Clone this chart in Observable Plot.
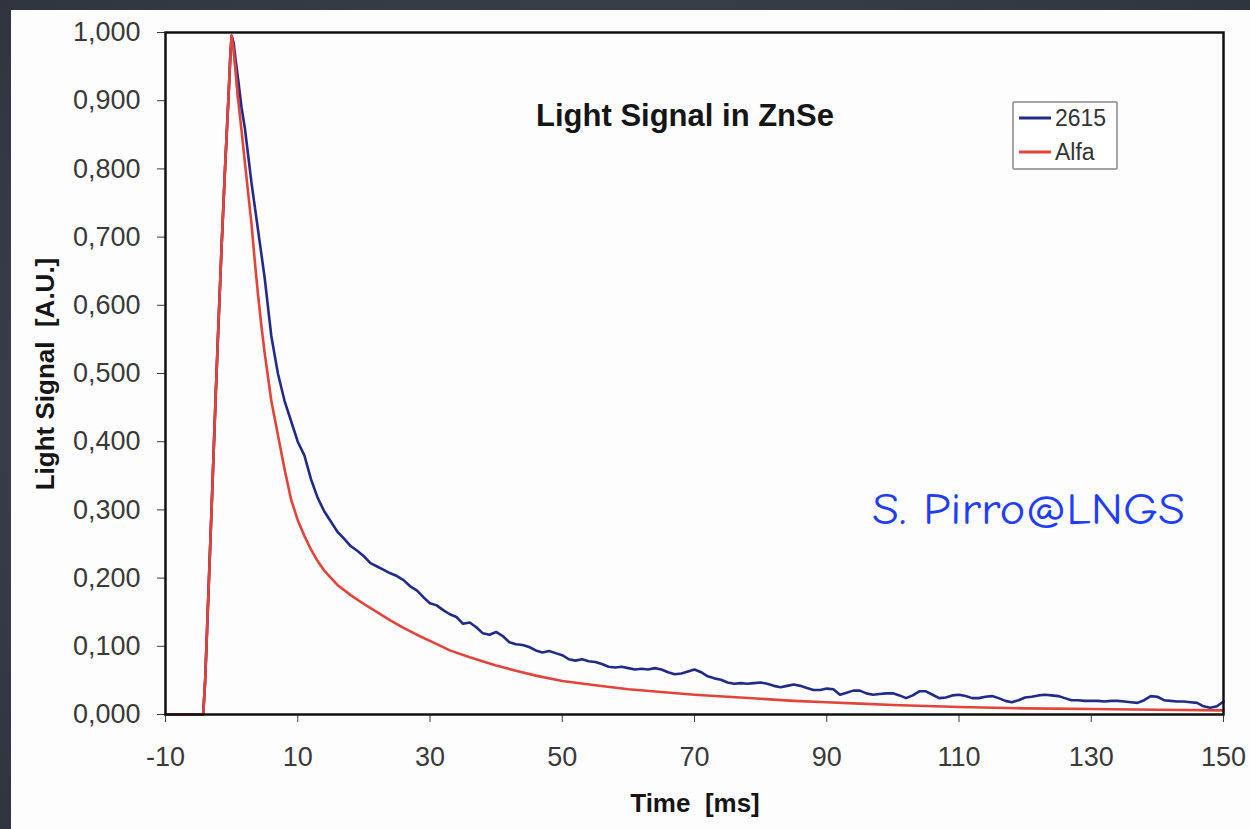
<!DOCTYPE html>
<html>
<head>
<meta charset="utf-8">
<script src="https://cdn.jsdelivr.net/npm/d3@7"></script>
<script src="https://cdn.jsdelivr.net/npm/@observablehq/plot@0.6"></script>
<style>
  html, body { margin: 0; padding: 0; }
  body {
    width: 1250px; height: 829px; overflow: hidden; position: relative;
    background: radial-gradient(ellipse at 50% 50%, #464b56 0%, #3a3e48 60%, #30343d 100%);
  }
  #panel { position: absolute; left: 11px; top: 10px; width: 1239px; height: 819px; background: #fdfdfd; }
  #overlay { position: absolute; left: 0; top: 0; pointer-events: none; }
</style>
</head>
<body>
<div id="panel"></div>
<svg id="overlay" width="1250" height="829"></svg>
<script>
// ---- data ----
const xTicks = [-10, 10, 30, 50, 70, 90, 110, 130, 150];
const yTicks = [0, 0.1, 0.2, 0.3, 0.4, 0.5, 0.6, 0.7, 0.8, 0.9, 1.0];

const alfaT = [-10, -4.3, -4, -3.5, -3, -2.4, -2, -1.5, -1, -0.5, -0.2, 0, 0.3, 0.6, 1, 1.5, 2, 2.5, 3, 3.5, 4, 4.5, 5, 6, 7, 8, 9, 10, 11, 12, 13, 14, 16, 18, 20, 22, 24, 26, 28, 30, 33, 36, 40, 43, 46, 50, 55, 60, 65, 70, 75, 80, 85, 90, 95, 100, 110, 120, 130, 140, 150];
const alfaV = [0, 0, 0.05, 0.18, 0.31, 0.47, 0.57, 0.69, 0.80, 0.90, 0.965, 0.995, 0.975, 0.945, 0.90, 0.856, 0.81, 0.765, 0.72, 0.665, 0.615, 0.57, 0.53, 0.46, 0.41, 0.36, 0.315, 0.285, 0.262, 0.242, 0.225, 0.211, 0.19, 0.175, 0.162, 0.15, 0.138, 0.127, 0.117, 0.108, 0.094, 0.084, 0.072, 0.064, 0.057, 0.049, 0.043, 0.037, 0.033, 0.029, 0.026, 0.023, 0.020, 0.018, 0.016, 0.014, 0.011, 0.009, 0.008, 0.007, 0.006];

const g2615T = [-10, -4.3, -4, -3.5, -3, -2.4, -2, -1.5, -1, -0.5, -0.2, 0, 0.3, 0.6, 1, 1.5, 2, 3, 4, 5, 6, 7, 8, 9, 10, 11, 12, 13, 14, 15, 16, 17, 18, 19,
  20, 21, 22, 23, 24, 25, 26, 27, 28, 29, 30, 31, 32, 33, 34, 35, 36, 37, 38, 39,
  40, 41, 42, 43, 44, 45, 46, 47, 48, 49, 50, 51, 52, 53, 54, 55, 56, 57, 58, 59,
  60, 61, 62, 63, 64, 65, 66, 67, 68, 69, 70, 71, 72, 73, 74, 75, 76, 77, 78, 79,
  80, 81, 82, 83, 84, 85, 86, 87, 88, 89, 90, 91, 92, 93, 94, 95, 96, 97, 98, 99,
  100, 101, 102, 103, 104, 105, 106, 107, 108, 109, 110, 111, 112, 113, 114, 115, 116, 117, 118, 119,
  120, 121, 122, 123, 124, 125, 126, 127, 128, 129, 130, 131, 132, 133, 134, 135, 136, 137, 138, 139,
  140, 141, 142, 143, 144, 145, 146, 147, 148, 149, 150];
const g2615V = [0, 0, 0.05, 0.18, 0.31, 0.47, 0.57, 0.69, 0.80, 0.90, 0.965, 0.995, 0.985, 0.96, 0.93, 0.89, 0.86, 0.78, 0.71, 0.64, 0.555, 0.50, 0.46, 0.43, 0.40, 0.38, 0.345, 0.318, 0.298, 0.283, 0.268, 0.258, 0.247, 0.240,
  0.232, 0.222, 0.217, 0.212, 0.207, 0.203, 0.197, 0.188, 0.182, 0.172, 0.163, 0.160, 0.153, 0.147, 0.143, 0.133, 0.135, 0.128, 0.119, 0.117,
  0.121, 0.115, 0.106, 0.103, 0.102, 0.099, 0.094, 0.091, 0.093, 0.090, 0.087, 0.081, 0.079, 0.081, 0.078, 0.077, 0.074, 0.070, 0.069, 0.070,
  0.068, 0.066, 0.067, 0.066, 0.068, 0.066, 0.062, 0.059, 0.060, 0.063, 0.066, 0.062, 0.056, 0.053, 0.051, 0.047, 0.045, 0.046, 0.045, 0.046,
  0.047, 0.045, 0.042, 0.040, 0.042, 0.044, 0.042, 0.039, 0.036, 0.036, 0.038, 0.037, 0.029, 0.032, 0.035, 0.035, 0.031, 0.029, 0.030, 0.031,
  0.031, 0.028, 0.024, 0.028, 0.034, 0.034, 0.029, 0.024, 0.025, 0.028, 0.029, 0.027, 0.024, 0.024, 0.026, 0.027, 0.024, 0.020, 0.018, 0.021,
  0.025, 0.026, 0.028, 0.029, 0.028, 0.027, 0.024, 0.021, 0.021, 0.020, 0.020, 0.020, 0.019, 0.020, 0.020, 0.019, 0.018, 0.017, 0.021, 0.027,
  0.026, 0.021, 0.020, 0.019, 0.019, 0.018, 0.017, 0.012, 0.010, 0.012, 0.019];

const seriesNames = ["2615", "Alfa"];
const seriesColors = ["#222c86", "#e2433b"];

const rows2615 = g2615T.map((t, i) => ({t, v: g2615V[i]}));
const rowsAlfa = alfaT.map((t, i) => ({t, v: alfaV[i]}));

const fmtY = d => d3.format(".3f")(d).replace(".", ",");
const FONT = "'Liberation Sans', Arial, Helvetica, sans-serif";

const chart = Plot.plot({
  width: 1239,
  height: 819,
  marginLeft: 154,
  marginTop: 22,
  marginRight: 27,
  marginBottom: 115,
  style: { background: "transparent", fontFamily: FONT, fontSize: "27px", color: "#3a3a3a", overflow: "visible" },
  x: { domain: [-10, 150], ticks: xTicks, tickSize: 8, tickPadding: 24, label: null, tickFormat: d => String(d) },
  y: { domain: [0, 1], ticks: yTicks, tickSize: 8, tickPadding: 17, label: null, tickFormat: fmtY },
  marks: [
    Plot.line(rowsAlfa, { x: "t", y: "v", stroke: seriesColors[1], strokeWidth: 2.6 }),
    Plot.line(rows2615, { x: "t", y: "v", stroke: seriesColors[0], strokeWidth: 2.6 }),
    Plot.line(rowsAlfa.filter(d => d.t <= 1), { x: "t", y: "v", stroke: seriesColors[1], strokeWidth: 2.6 }),
    Plot.frame({ stroke: "#111", strokeWidth: 2.5 })
  ]
});
document.getElementById("panel").appendChild(chart);

// ---- annotations (overlay) ----
const ov = d3.select("#overlay");
ov.append("text").attr("x", 685).attr("y", 126).attr("text-anchor", "middle")
  .attr("font-family", FONT).attr("font-weight", "bold").attr("font-size", 31).attr("fill", "#151515")
  .text("Light Signal in ZnSe");
ov.append("text").attr("x", 695).attr("y", 812).attr("text-anchor", "middle")
  .attr("font-family", FONT).attr("font-weight", "bold").attr("font-size", 26).attr("fill", "#151515")
  .text("Time\u00a0\u00a0[ms]");
ov.append("text").attr("transform", "translate(54,374) rotate(-90)").attr("text-anchor", "middle")
  .attr("font-family", FONT).attr("font-weight", "bold").attr("font-size", 26).attr("fill", "#151515")
  .text("Light Signal\u00a0\u00a0[A.U.]");

// legend
ov.append("rect").attr("x", 1013).attr("y", 102).attr("width", 104).attr("height", 67)
  .attr("fill", "#fff").attr("stroke", "#888").attr("stroke-width", 1.5).attr("rx", 1);
seriesNames.forEach((name, i) => {
  const y = 118 + i * 34;
  ov.append("line").attr("x1", 1019).attr("x2", 1051).attr("y1", y).attr("y2", y)
    .attr("stroke", seriesColors[i]).attr("stroke-width", 3);
  ov.append("text").attr("x", 1055).attr("y", y + 8)
    .attr("font-family", FONT).attr("font-size", 23).attr("fill", "#333").text(name);
});

// watermark
ov.append("text").attr("x", 872).attr("y", 524)
  .attr("font-family", "'Comic Sans MS', 'Comic Neue', 'DejaVu Sans', sans-serif").attr("font-size", 45)
  .attr("textLength", 313).attr("lengthAdjust", "spacingAndGlyphs")
  .attr("fill", "#1f3dff").text("S. Pirro@LNGS");
</script>
</body>
</html>
